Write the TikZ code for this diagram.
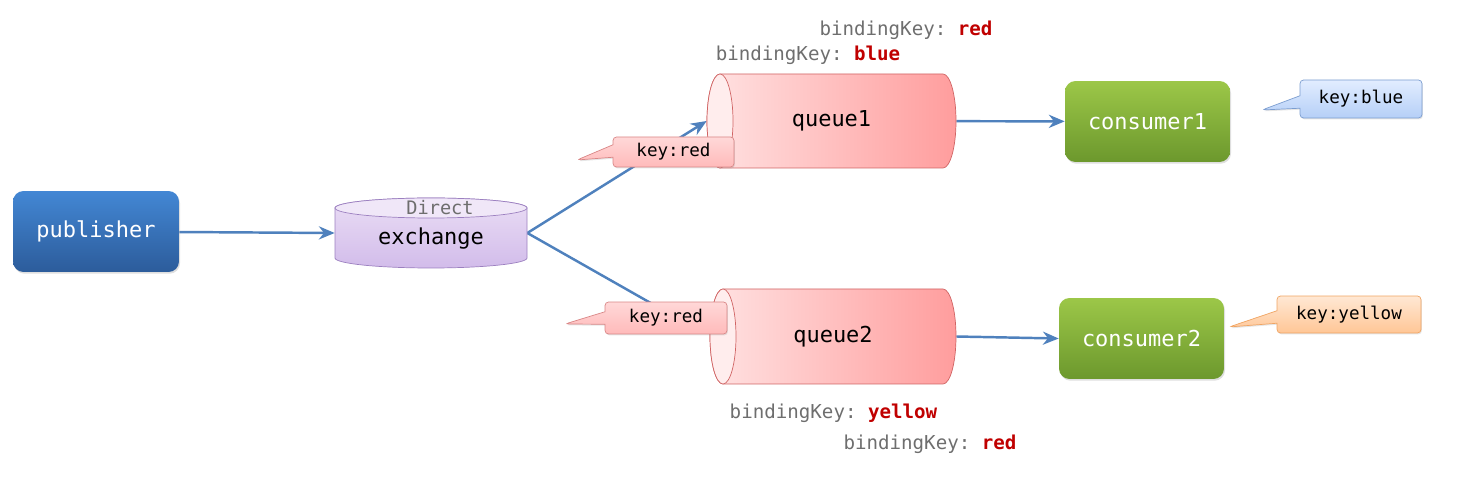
\documentclass[tikz,border=0pt]{standalone}
\usepackage{fontspec}
\setmonofont{DejaVu Sans Mono}
\usetikzlibrary{shapes.callouts,arrows.meta,shadows,backgrounds}

\definecolor{pubtop}{HTML}{4387D4}
\definecolor{pubbot}{HTML}{2C5C9B}
\definecolor{contop}{HTML}{9CC748}
\definecolor{conbot}{HTML}{6C982D}
\definecolor{extop}{HTML}{EADDF5}
\definecolor{exbot}{HTML}{D2BCEA}
\definecolor{exline}{HTML}{9C80C0}
\definecolor{qleft}{HTML}{FFE2E2}
\definecolor{qright}{HTML}{FF9D9D}
\definecolor{qend}{HTML}{FFEDED}
\definecolor{qline}{HTML}{D06464}
\definecolor{arrowblue}{HTML}{4F81BD}
\definecolor{keygray}{HTML}{6E6E6E}
\definecolor{keyred}{HTML}{C00000}
\definecolor{redtagtop}{HTML}{FFD8D8}
\definecolor{redtagbot}{HTML}{FFBABA}
\definecolor{redtagline}{HTML}{D98686}
\definecolor{bluetagtop}{HTML}{E2EDFF}
\definecolor{bluetagbot}{HTML}{B5CFF7}
\definecolor{bluetagline}{HTML}{7B9DD0}
\definecolor{yeltagtop}{HTML}{FFE8D4}
\definecolor{yeltagbot}{HTML}{FFC696}
\definecolor{yeltagline}{HTML}{F0A462}

\tikzset{
  box/.style={rounded corners=6pt, draw=none, inner sep=0pt,
    font=\ttfamily\fontsize{12.5}{15}\selectfont, text=white,
    drop shadow={opacity=0.25, shadow xshift=0.6pt, shadow yshift=-1pt}},
  pubbox/.style={box, top color=pubtop, bottom color=pubbot,
    minimum width=3.32cm, minimum height=1.62cm},
  conbox/.style={box, top color=contop, bottom color=conbot,
    minimum width=3.3cm, minimum height=1.62cm},
  flow/.style={draw=arrowblue, line width=1.4pt, -{Stealth[length=9pt,width=7.5pt]}},
  keytag/.style={rectangle callout, rounded corners=2pt, inner sep=0pt,
    font=\ttfamily\fontsize{10}{12}\selectfont,
    callout pointer width=0.25cm,
    drop shadow={opacity=0.2, shadow xshift=0.5pt, shadow yshift=-0.8pt}},
  redtag/.style={keytag, draw=redtagline, top color=redtagtop, bottom color=redtagbot},
  bluetag/.style={keytag, draw=bluetagline, top color=bluetagtop, bottom color=bluetagbot},
  yellowtag/.style={keytag, draw=yeltagline, top color=yeltagtop, bottom color=yeltagbot},
  bkey/.style={font=\ttfamily\fontsize{10.9}{13}\selectfont, text=keygray, inner sep=0pt}
}

\newcommand{\bkeytext}[1]{bindingKey: \textcolor{keyred}{\bfseries #1}}

\begin{document}
\begin{tikzpicture}[x=0.02cm, y=0.02cm]
  \useasboundingbox (0,0) rectangle (1457,480);

  % publisher and consumers
  \node[pubbox] (pub) at (96,248.5) {publisher};
  \node[conbox] (c1) at (1147.5,358.5) {consumer1};
  \node[conbox] (c2) at (1141.5,141.5) {consumer2};

  % exchange
  \shade[top color=extop, bottom color=exbot, draw=exline]
    (335,272) -- (335,222) arc[start angle=180, end angle=360, x radius=96, y radius=10]
    -- (527,272) arc[start angle=0, end angle=180, x radius=96, y radius=10] -- cycle;
  \filldraw[fill=extop!70!white, draw=exline] (431,272) ellipse[x radius=96, y radius=10];
  \node[inner sep=0pt, minimum width=3.84cm, minimum height=1.4cm] (ex) at (431,247) {};
  \node[font=\ttfamily\fontsize{10.6}{12}\selectfont, text=keygray, inner sep=0pt] (exdirect) at (440,272) {Direct};
  \node[font=\ttfamily\fontsize{12.5}{15}\selectfont, inner sep=0pt] (exname) at (431,241) {exchange};

  % queues
  \shade[left color=qleft, right color=qright, draw=qline]
    (720,406) -- (943,406) arc[start angle=90, end angle=-90, x radius=13, y radius=47]
    -- (720,312) arc[start angle=270, end angle=90, x radius=13, y radius=47] -- cycle;
  \filldraw[fill=qend, draw=qline] (720,359) ellipse[x radius=13, y radius=47];
  \node[inner sep=0pt, minimum width=4.98cm, minimum height=1.88cm,
    font=\ttfamily\fontsize{12.5}{15}\selectfont] (q1) at (831.5,359) {queue1};

  \shade[left color=qleft, right color=qright, draw=qline]
    (723,191) -- (943,191) arc[start angle=90, end angle=-90, x radius=13, y radius=47.5]
    -- (723,96) arc[start angle=270, end angle=90, x radius=13, y radius=47.5] -- cycle;
  \filldraw[fill=qend, draw=qline] (723,143.5) ellipse[x radius=13, y radius=47.5];
  \node[inner sep=0pt, minimum width=4.92cm, minimum height=1.9cm,
    font=\ttfamily\fontsize{12.5}{15}\selectfont] (q2) at (833,143.5) {queue2};

  % connectors
  \begin{scope}[on background layer]
    \draw[flow] (pub) -- (ex.west);
    \draw[flow] (ex.east) -- (q1.west);
    \draw[flow, shorten >=12pt] (ex.east) -- (q2.west);
    \draw[flow] (q1) -- (c1);
    \draw[flow] (q2.east) -- (c2.west);
  \end{scope}

  % routing keys
  \node[redtag, minimum width=2.42cm, minimum height=0.6cm,
    callout absolute pointer={(577,320)}] (k1) at (673.5,328) {key:red};
  \node[redtag, minimum width=2.44cm, minimum height=0.64cm,
    callout absolute pointer={(565,156)}] (k2) at (666,162) {key:red};
  \node[bluetag, minimum width=2.44cm, minimum height=0.76cm,
    callout absolute pointer={(1262,370)}] (kb) at (1361,381) {key:blue};
  \node[yellowtag, minimum width=2.88cm, minimum height=0.74cm,
    callout absolute pointer={(1229,153)}] (ky) at (1349,165.5) {key:yellow};

  % binding keys
  \node[bkey] (bk1) at (906,450) {\bkeytext{red}};
  \node[bkey] (bk2) at (808,425) {\bkeytext{blue}};
  \node[bkey] (bk3) at (833.5,67) {\bkeytext{yellow}};
  \node[bkey] (bk4) at (930,36) {\bkeytext{red}};
\end{tikzpicture}
\end{document}
